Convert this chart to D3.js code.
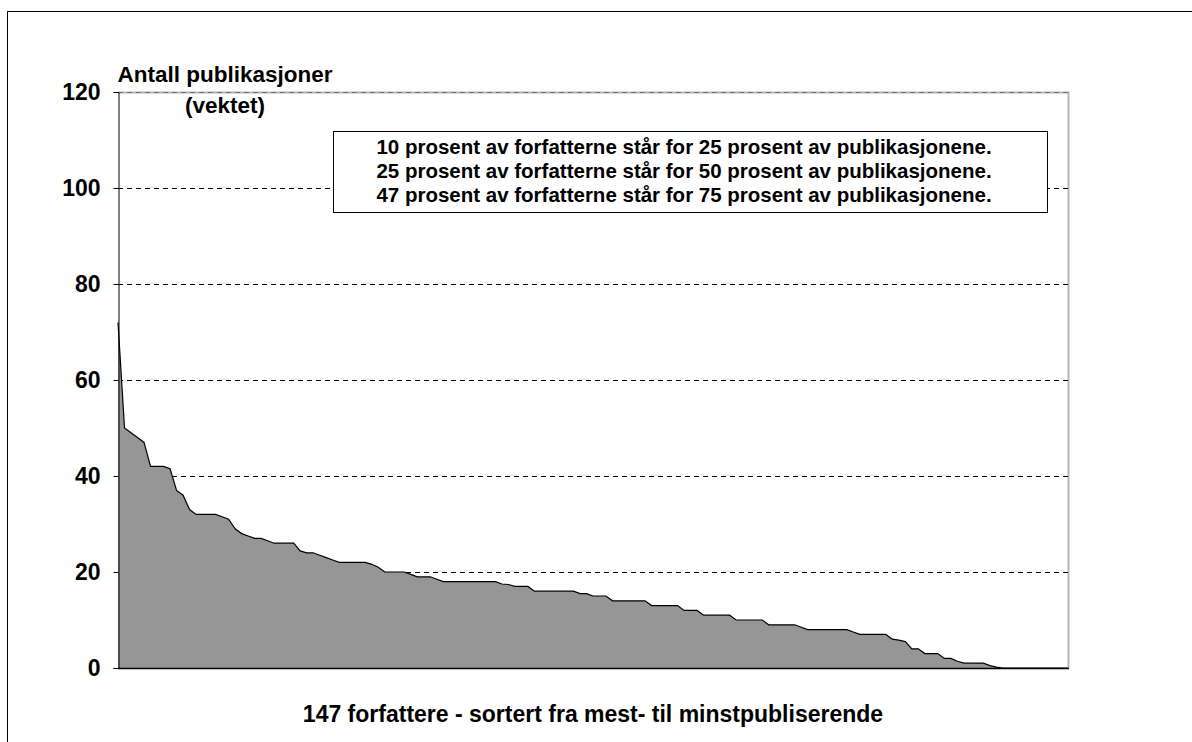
<!DOCTYPE html>
<html>
<head>
<meta charset="utf-8">
<script src="https://cdn.jsdelivr.net/npm/d3@7"></script>
<style>
  body { margin: 0; background: #fff; }
  svg { display: block; font-family: Arial, "Liberation Sans", sans-serif; }
</style>
</head>
<body>
<svg id="chart" width="1192" height="742"></svg>
<script>
// Publications per author, sorted descending (147 authors)
const values = [
  72, 50, 49, 48, 47, 42, 42, 42, 41.5, 37,
  36, 33, 32, 32, 32, 32, 31.5, 31, 29, 28,
  27.5, 27, 27, 26.5, 26, 26, 26, 26, 24.4, 24,
  24, 23.5, 23, 22.5, 22, 22, 22, 22, 22, 21.6,
  21, 20, 20, 20, 20, 19.5, 19, 19, 19, 18.5,
  18, 18, 18, 18, 18, 18, 18, 18, 18, 17.5,
  17.4, 17, 17, 17, 16, 16, 16, 16, 16, 16,
  16, 15.5, 15.5, 15, 15, 15, 14, 14, 14, 14,
  14, 14, 13, 13, 13, 13, 13, 12, 12, 12,
  11, 11, 11, 11, 11, 10, 10, 10, 10, 10,
  9, 9, 9, 9, 9, 8.5, 8, 8, 8, 8,
  8, 8, 8, 7.5, 7, 7, 7, 7, 7, 6,
  5.8, 5.5, 4, 4, 3, 3, 3, 2, 2, 1.4,
  1, 1, 1, 1, 0.5, 0.2, 0, 0, 0, 0,
  0, 0, 0, 0, 0, 0, 0
];
const yTicks = [0, 20, 40, 60, 80, 100, 120];
const yTitle = ["Antall publikasjoner", "(vektet)"];
const xTitle = "147 forfattere - sortert fra mest- til minstpubliserende";
const noteLines = [
  "10 prosent av forfatterne står for 25 prosent av publikasjonene.",
  "25 prosent av forfatterne står for 50 prosent av publikasjonene.",
  "47 prosent av forfatterne står for 75 prosent av publikasjonene."
];

const svg = d3.select("#chart");
const L = 118, R = 1068, T = 92, B = 668;

// outer frame
svg.append("rect").attr("x", 7.5).attr("y", 11.5).attr("width", 1300).attr("height", 900)
  .attr("fill", "none").attr("stroke", "#000").attr("stroke-width", 1);

const x = d3.scaleLinear().domain([0, values.length - 1]).range([L, R]);
const y = d3.scaleLinear().domain([0, 120]).range([B, T]);

// plot border (right/top gray)
svg.append("path")
  .attr("d", `M${L},${T + 0.5}H${R + 0.5}V${B}`)
  .attr("fill", "none").attr("stroke", "#b4b4b4").attr("stroke-width", 2);

// gridlines
svg.append("g").selectAll("line").data(yTicks.filter(d => d > 0)).join("line")
  .attr("x1", L).attr("x2", R)
  .attr("y1", d => Math.round(y(d)) + 0.5).attr("y2", d => Math.round(y(d)) + 0.5)
  .attr("stroke", d => d === 120 ? "#707070" : "#000")
  .attr("stroke-width", 1).attr("stroke-dasharray", "5,4");

// area
const area = d3.area().x((d, i) => x(i)).y0(B).y1(d => y(d));
const line = d3.line().x((d, i) => x(i)).y(d => y(d));
svg.append("path").datum(values).attr("d", area).attr("fill", "#969696");
svg.append("path").datum(values).attr("d", line).attr("fill", "none")
  .attr("stroke", "#000").attr("stroke-width", 1.2);

// y axis
const yAxis = d3.axisLeft(y).tickValues(yTicks).tickSize(5).tickPadding(13).tickFormat(d3.format("d"));
const ga = svg.append("g").attr("transform", `translate(${L + 0.5},0)`).call(yAxis);
ga.select(".domain").attr("stroke", "#000");
ga.selectAll(".tick line").attr("stroke", "#000");
ga.selectAll(".tick text").attr("font-size", 23).attr("font-weight", "bold")
  .attr("font-family", "Arial, 'Liberation Sans', sans-serif").attr("fill", "#000");

// x axis line
svg.append("line").attr("x1", L).attr("x2", R + 1).attr("y1", B + 0.5).attr("y2", B + 0.5)
  .attr("stroke", "#000").attr("stroke-width", 1.6);

// y title
svg.append("text").attr("x", 225).attr("y", 82).attr("text-anchor", "middle")
  .attr("font-size", 22.5).attr("font-weight", "bold").text(yTitle[0]);
svg.append("text").attr("x", 225).attr("y", 113).attr("text-anchor", "middle")
  .attr("font-size", 22.5).attr("font-weight", "bold").text(yTitle[1]);

// x title
svg.append("text").attr("x", 593).attr("y", 722).attr("text-anchor", "middle")
  .attr("font-size", 23).attr("font-weight", "bold").text(xTitle);

// note box
svg.append("rect").attr("x", 333.5).attr("y", 131.5).attr("width", 714).attr("height", 81)
  .attr("fill", "#fff").attr("stroke", "#000").attr("stroke-width", 1);
svg.append("g").selectAll("text").data(noteLines).join("text")
  .attr("x", 684).attr("y", (d, i) => 154 + i * 24)
  .attr("text-anchor", "middle").attr("font-size", 20.5).attr("font-weight", "bold")
  .text(d => d);
</script>
</body>
</html>
